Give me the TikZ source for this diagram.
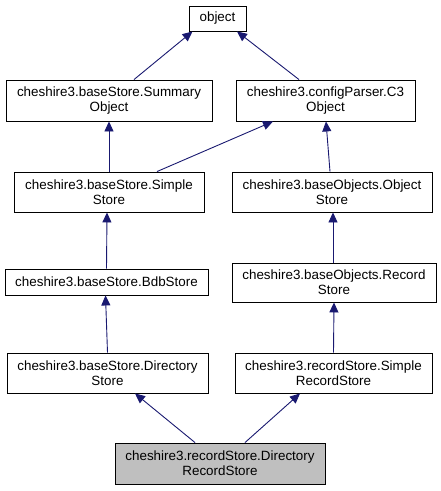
\documentclass[tikz,border=0pt]{standalone}
\usepackage{fontspec}
\setmainfont{Liberation Sans}
\usetikzlibrary{arrows.meta}
\definecolor{edgeblue}{RGB}{25,25,112}
\begin{document}
\begin{tikzpicture}[x=1pt,y=-1pt,
  cls/.style={draw=black, line width=0.9pt, inner sep=0pt, align=center,
    font=\fontsize{13.4}{15}\selectfont, fill=white},
  inh/.style={draw=edgeblue, line width=0.9pt, -{Triangle[length=10pt,width=9pt,fill=edgeblue]}}]
\useasboundingbox (0,0) rectangle (441,491);
\node[cls, minimum width=57pt, minimum height=25pt] (obj) at (217.5,18.5) {object};
\node[cls, minimum width=206pt, minimum height=41pt] (sum) at (109,100.5) {cheshire3.baseStore.Summary\\Object};
\node[cls, minimum width=179pt, minimum height=41pt] (c3) at (325.5,100.5) {cheshire3.configParser.C3\\Object};
\node[cls, minimum width=190pt, minimum height=40pt] (ss) at (109,192) {cheshire3.baseStore.Simple\\Store};
\node[cls, minimum width=200pt, minimum height=40pt] (os) at (332,192) {cheshire3.baseObjects.Object\\Store};
\node[cls, minimum width=203pt, minimum height=26pt] (bdb) at (106.5,282) {cheshire3.baseStore.BdbStore};
\node[cls, minimum width=204pt, minimum height=39pt] (rs) at (334,282.5) {cheshire3.baseObjects.Record\\Store};
\node[cls, minimum width=201pt, minimum height=40pt] (ds) at (107.5,373) {cheshire3.baseStore.Directory\\Store};
\node[cls, minimum width=197pt, minimum height=40pt] (srs) at (333.5,373) {cheshire3.recordStore.Simple\\RecordStore};
\node[cls, minimum width=210pt, minimum height=41pt, fill={rgb,255:red,191;green,191;blue,191}] (drs) at (220,463.5) {cheshire3.recordStore.Directory\\RecordStore};
\draw[inh] ([xshift=25pt]sum.north) -- ([xshift=-25pt]obj.south);
\draw[inh] ([xshift=-26.5pt]c3.north) -- ([xshift=19.5pt]obj.south);
\draw[inh] (ss.north) -- (sum.south);
\draw[inh] ([xshift=48pt]ss.north) -- ([xshift=-52.5pt]c3.south);
\draw[inh] ([xshift=-2pt]os.north) -- ([xshift=0.5pt]c3.south);
\draw[inh] (bdb.north) -- ([xshift=-2pt]ss.south);
\draw[inh] ([xshift=-1pt]rs.north) -- ([xshift=1pt]os.south);
\draw[inh] (ds.north) -- ([xshift=-1pt]bdb.south);
\draw[inh] (srs.north) -- (rs.south);
\draw[inh] ([xshift=-25pt]drs.north) -- ([xshift=27.5pt]ds.south);
\draw[inh] ([xshift=25pt]drs.north) -- ([xshift=-33.5pt]srs.south);
\end{tikzpicture}
\end{document}
